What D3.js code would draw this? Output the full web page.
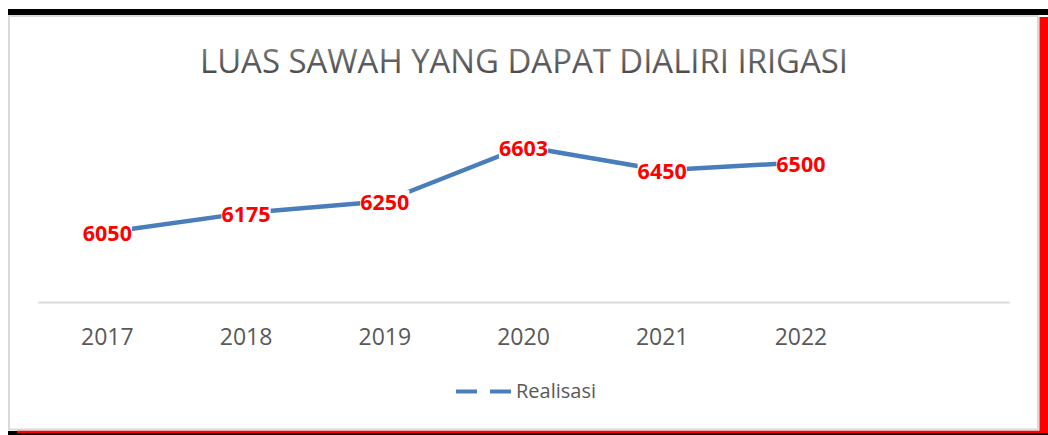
<!DOCTYPE html>
<html>
<head>
<meta charset="utf-8">
<script src="https://cdn.jsdelivr.net/npm/d3@7"></script>
<style>
  html, body { margin: 0; padding: 0; background: #ffffff; }
  svg { display: block; }
</style>
</head>
<body>
<svg id="chart" width="1048" height="435"></svg>
<script>
const chartTitle = "LUAS SAWAH YANG DAPAT DIALIRI IRIGASI";
const categories = ["2017", "2018", "2019", "2020", "2021", "2022"];
const realisasi = [6050, 6175, 6250, 6603, 6450, 6500];
const seriesName = "Realisasi";
const yDomain = [5600, 6800];

const svg = d3.select("#chart");

// frame decorations
svg.append("rect").attr("x", 8).attr("y", 9).attr("width", 1040).attr("height", 6).attr("fill", "#000");
svg.append("rect").attr("x", 8).attr("y", 431).attr("width", 1040).attr("height", 4).attr("fill", "#000");
svg.append("rect").attr("x", 1039.5).attr("y", 17).attr("width", 8.5).attr("height", 416).attr("fill", "#ff0000");
svg.append("rect").attr("x", 17).attr("y", 430.5).attr("width", 1031).attr("height", 2.5).attr("fill", "#ff0000");
svg.append("rect").attr("x", 9).attr("y", 16).attr("width", 1029).attr("height", 413.5)
  .attr("fill", "#fff").attr("stroke", "#d9d9d9").attr("stroke-width", 2);

// title gradient
const defs = svg.append("defs");
const grad = defs.append("linearGradient").attr("id", "tgrad").attr("x1", 0).attr("y1", 0).attr("x2", 0).attr("y2", 1);
grad.append("stop").attr("offset", "0%").attr("stop-color", "#8a8a8a");
grad.append("stop").attr("offset", "100%").attr("stop-color", "#3c3c3c");

svg.append("text")
  .attr("x", 524).attr("y", 73)
  .attr("text-anchor", "middle")
  .attr("font-family", "'Open Sans', 'Noto Sans', sans-serif")
  .attr("font-size", 32)
  .attr("textLength", 648).attr("lengthAdjust", "spacingAndGlyphs")
  .attr("fill", "url(#tgrad)")
  .text(chartTitle);

// scales
const slots = categories.concat([""]);
const x = d3.scaleBand().domain(slots).range([38, 1009]).padding(0);
const y = d3.scaleLinear().domain(yDomain).range([302, 116]);
const cx = c => x(c) + x.bandwidth() / 2;

// x axis (baseline = domain line)
const xAxis = d3.axisBottom(x).tickSize(0).tickSizeOuter(0).tickPadding(27)
  .tickFormat(d => d);
const gx = svg.append("g").attr("transform", `translate(0,${y(yDomain[0])})`).call(xAxis);
gx.select(".domain").attr("stroke", "#d9d9d9").attr("stroke-width", 2);
gx.selectAll("text")
  .attr("font-family", "'Open Sans', 'Noto Sans', sans-serif")
  .attr("font-size", 23)
  .attr("fill", "#595959");

// line
const data = categories.map((c, i) => ({ c, v: realisasi[i] }));
const line = d3.line().x(d => cx(d.c)).y(d => y(d.v));
svg.append("path").datum(data)
  .attr("d", line)
  .attr("fill", "none")
  .attr("stroke", "#4a7ebb")
  .attr("stroke-width", 4.5)
  .attr("stroke-linejoin", "round")
  .attr("stroke-linecap", "round");

// data labels with white background
const lg = svg.append("g");
data.forEach(d => {
  const g = lg.append("g");
  const t = g.append("text")
    .attr("x", cx(d.c)).attr("y", y(d.v) + 9)
    .attr("text-anchor", "middle")
    .attr("font-family", "'Open Sans', 'Noto Sans', sans-serif")
    .attr("font-weight", "bold")
    .attr("font-size", 21.5)
    .attr("fill", "#ff0000")
    .text(d.v);
  const bb = t.node().getBBox();
  g.insert("rect", "text")
    .attr("x", bb.x).attr("y", bb.y + 3)
    .attr("width", bb.width).attr("height", bb.height - 6)
    .attr("fill", "#fff");
});

// legend
const legY = 391.5;
svg.append("line")
  .attr("x1", 456).attr("x2", 511).attr("y1", legY).attr("y2", legY)
  .attr("stroke", "#4a7ebb").attr("stroke-width", 4)
  .attr("stroke-dasharray", "21 13");
svg.append("text")
  .attr("x", 516).attr("y", 397.5)
  .attr("font-family", "'Open Sans', 'Noto Sans', sans-serif")
  .attr("font-size", 20)
  .attr("fill", "#595959")
  .text(seriesName);
</script>
</body>
</html>
